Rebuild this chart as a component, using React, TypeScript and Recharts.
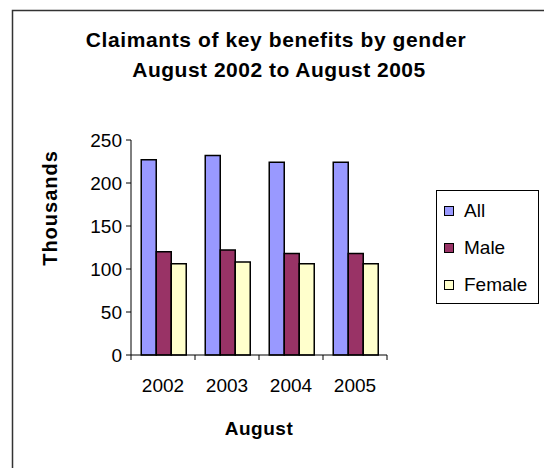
import React from 'react';
import { BarChart, Bar, XAxis, YAxis, Legend } from 'recharts';

const categories = ['2002', '2003', '2004', '2005'];
const allValues = [227, 232, 224, 224];
const maleValues = [120, 122, 118, 118];
const femaleValues = [106, 108, 106, 106];
const yTicks = [0, 50, 100, 150, 200, 250];

const seriesNames = ['All', 'Male', 'Female'];
const seriesColors = ['#9999FF', '#993366', '#FFFFCC'];

const data = categories.map((c, i) => ({
  year: c,
  All: allValues[i],
  Male: maleValues[i],
  Female: femaleValues[i],
}));

const FONT = '"Liberation Sans", Arial, sans-serif';

const LegendBox = (props: any) => {
  const payload = [...(props.payload || [])].sort(
    (a: any, b: any) => seriesNames.indexOf(a.value) - seriesNames.indexOf(b.value)
  );
  return (
    <div
      style={{
        position: 'relative',
        border: '1px solid #000',
        width: 101,
        height: 112,
        background: '#fff',
        fontFamily: FONT,
        fontSize: 19,
        color: '#000',
      }}
    >
      {payload.map((p: any, i: number) => (
        <div
          key={p.value}
          style={{
            position: 'absolute',
            left: 7,
            top: 9 + i * 37,
            height: 22,
            display: 'flex',
            alignItems: 'center',
            whiteSpace: 'nowrap',
          }}
        >
          <span
            style={{
              display: 'inline-block',
              width: 8,
              height: 8,
              border: '1.5px solid #000',
              background: p.color,
              marginRight: 10,
            }}
          />
          <span>{p.value}</span>
        </div>
      ))}
    </div>
  );
};

const CategoryTick = (props: any) => {
  const { x, y, payload, index, visibleTicksCount } = props;
  const half = payload && payload.offset ? payload.offset : 32;
  const base = y - 24;
  return (
    <g>
      <line x1={x - half} y1={base} x2={x - half} y2={base + 5} stroke="#000" />
      {index === visibleTicksCount - 1 && (
        <line x1={x + half} y1={base} x2={x + half} y2={base + 5} stroke="#000" />
      )}
      <text x={x} y={y} dy="0.71em" textAnchor="middle" fill="#000" fontSize={19} fontFamily={FONT}>
        {payload.value}
      </text>
    </g>
  );
};

export default function App() {
  return (
    <div style={{ position: 'absolute', left: 0, top: 0, width: 544, height: 468, background: '#fff', overflow: 'hidden' }}>
      <BarChart
        width={544}
        height={468}
        data={data}
        margin={{ top: 140, right: 157, bottom: 83, left: 71 }}
        barCategoryGap="16%"
        barGap={0}
      >
        <XAxis
          dataKey="year"
          type="category"
          height={30}
          interval={0}
          axisLine={{ stroke: '#000' }}
          tickLine={false}
          tickSize={0}
          tickMargin={24}
          tick={<CategoryTick />}
        />
        <YAxis
          width={60}
          domain={[0, 250]}
          ticks={yTicks}
          tickSize={5}
          tickMargin={4}
          axisLine={{ stroke: '#000' }}
          tickLine={{ stroke: '#000' }}
          tick={{ fill: '#000', fontSize: 19, fontFamily: FONT }}
        />
        <Legend
          layout="vertical"
          align="center"
          verticalAlign="middle"
          content={<LegendBox />}
          wrapperStyle={{ position: 'absolute', left: 436, top: 190, width: 103, height: 114 }}
        />
        {seriesNames.map((s, i) => (
          <Bar
            key={s}
            dataKey={s}
            name={s}
            fill={seriesColors[i]}
            stroke="#000"
            strokeWidth={1.5}
            isAnimationActive={false}
          />
        ))}
      </BarChart>
      <svg
        width={544}
        height={468}
        style={{ position: 'absolute', left: 0, top: 0, pointerEvents: 'none' }}
      >
        <path d="M12.5 468 L12.5 10.5 L544 10.5" fill="none" stroke="#333" strokeWidth={1.5} />
        <text x={276} y={47} textAnchor="middle" letterSpacing={0.6} fontFamily={FONT} fontWeight="bold" fontSize={21} fill="#000">
          Claimants of key benefits by gender
        </text>
        <text x={279} y={77} textAnchor="middle" letterSpacing={0.5} fontFamily={FONT} fontWeight="bold" fontSize={21} fill="#000">
          August 2002 to August 2005
        </text>
        <text x={259} y={435} textAnchor="middle" letterSpacing={0.5} fontFamily={FONT} fontWeight="bold" fontSize={19} fill="#000">
          August
        </text>
        <text
          x={0}
          y={0}
          transform="translate(57 208) rotate(-90)"
          textAnchor="middle"
          letterSpacing={1}
          fontFamily={FONT}
          fontWeight="bold"
          fontSize={20}
          fill="#000"
        >
          Thousands
        </text>
      </svg>
    </div>
  );
}
